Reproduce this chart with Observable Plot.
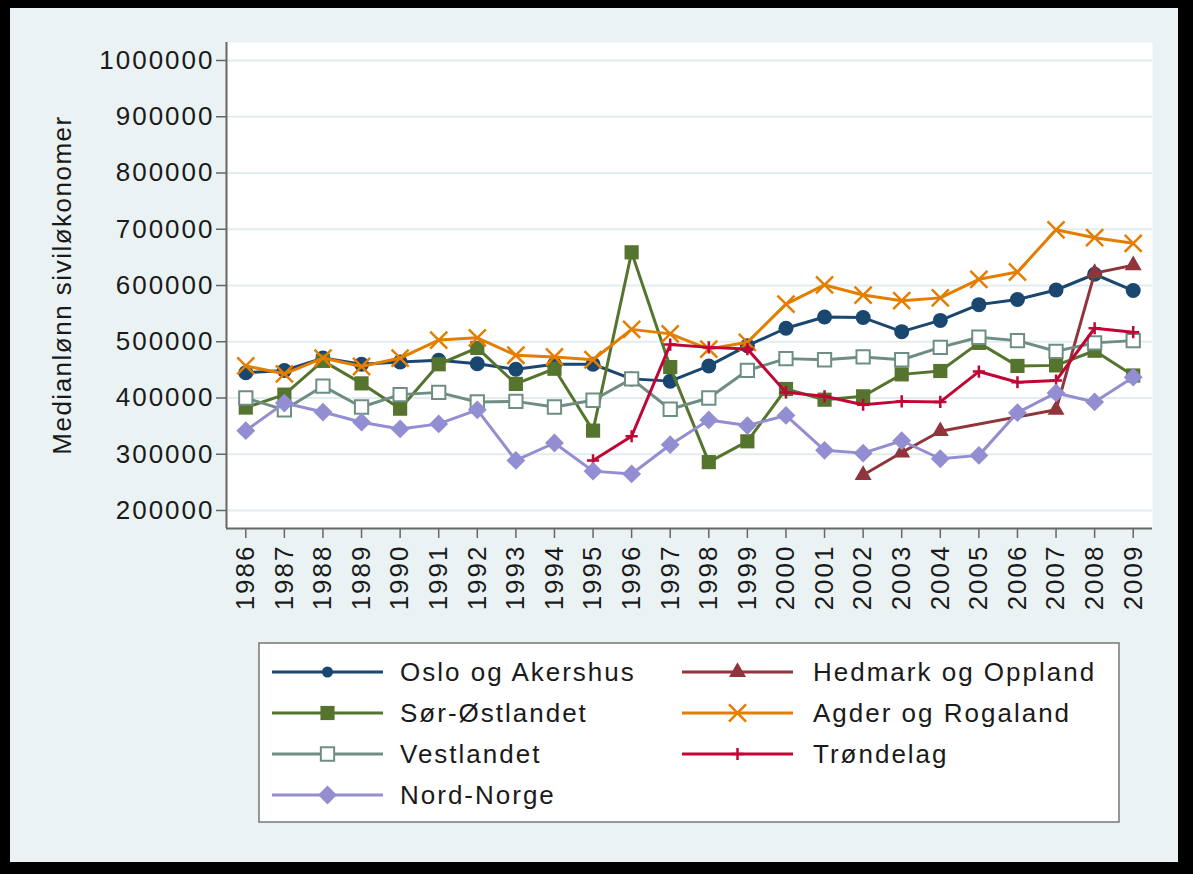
<!DOCTYPE html>
<html><head><meta charset="utf-8">
<script src="https://cdn.jsdelivr.net/npm/d3@7"></script>
<script src="https://cdn.jsdelivr.net/npm/@observablehq/plot@0.6"></script>
<style>
html,body{margin:0;padding:0;background:#000;width:1193px;height:874px;overflow:hidden;}
#frame{position:absolute;left:10px;top:8px;width:1168px;height:854px;background:#EAF2F3;}
</style></head><body><div id="frame"></div>
<script>
// ---- data ----
const years = [1986,1987,1988,1989,1990,1991,1992,1993,1994,1995,1996,1997,1998,1999,2000,2001,2002,2003,2004,2005,2006,2007,2008,2009];
const yTicks = [200000,300000,400000,500000,600000,700000,800000,900000,1000000];
const names = ["Oslo og Akershus","Hedmark og Oppland","Sør-Østlandet","Agder og Rogaland","Vestlandet","Trøndelag","Nord-Norge"];
const oslo    = [445000,449000,471000,460000,464000,467000,461000,451000,460000,460000,434000,430000,457000,493000,524000,544000,543000,518000,538000,566000,575000,592000,620000,591000];
const hedmark = [null,null,null,null,null,null,null,null,null,null,null,null,null,null,null,null,263000,303000,341000,null,null,379000,622000,636000];
const sorost  = [383000,406000,466000,426000,381000,460000,489000,425000,452000,342000,659000,455000,286000,323000,416000,397000,403000,442000,448000,498000,457000,458000,484000,440000];
const agder   = [457000,443000,471000,456000,471000,503000,507000,476000,473000,468000,522000,514000,487000,499000,567000,601000,583000,573000,578000,611000,624000,699000,685000,675000];
const vest    = [400000,379000,421000,384000,406000,410000,393000,394000,384000,396000,434000,380000,400000,449000,470000,468000,473000,468000,490000,508000,502000,483000,498000,502000];
const trond   = [null,null,null,null,null,null,null,null,null,289000,332000,495000,490000,487000,410000,403000,388000,394000,393000,447000,428000,431000,524000,517000];
const nord    = [342000,391000,375000,357000,345000,354000,379000,289000,320000,270000,265000,317000,361000,351000,369000,307000,302000,324000,292000,298000,374000,409000,393000,437000];
const seriesValues = [oslo, hedmark, sorost, agder, vest, trond, nord];

// ---- styles ----
const styles = [
  {color:"#1a476f", symbol:d3.symbolCircle,   r:7.5, rl:5.5, filled:true},
  {color:"#90353b", symbol:d3.symbolTriangle, r:6.3, rl:6.3, filled:true},
  {color:"#55752f", symbol:d3.symbolSquare,   r:8,   rl:8,   filled:true},
  {color:"#e37e00", symbol:d3.symbolTimes,    r:7.8, rl:7.8, filled:false},
  {color:"#6e8e84", symbol:d3.symbolSquare,   r:7.5, rl:7.5, hollow:true},
  {color:"#c10534", symbol:d3.symbolPlus,     r:4,   rl:4,   filled:false},
  {color:"#938dd2", symbol:d3.symbolDiamond2, r:8.5, rl:8.5, filled:true}
];

const seriesMarks = [];
names.forEach((name, k) => {
  const s = styles[k];
  const rows = [];
  seriesValues[k].forEach((v, i) => { if (v != null) rows.push({year: years[i], value: v}); });
  seriesMarks.push(Plot.line(rows, {x:"year", y:"value", stroke:s.color, strokeWidth:3}));
  if (s.hollow) {
    seriesMarks.push(Plot.dot(rows, {x:"year", y:"value", symbol:s.symbol, r:s.r, fill:"white", stroke:s.color, strokeWidth:2}));
  } else if (s.filled) {
    seriesMarks.push(Plot.dot(rows, {x:"year", y:"value", symbol:s.symbol, r:s.r, fill:s.color, stroke:"none"}));
  } else {
    seriesMarks.push(Plot.dot(rows, {x:"year", y:"value", symbol:s.symbol, r:s.r, fill:"none", stroke:s.color, strokeWidth:2.5}));
  }
});

const FONT = "'Liberation Sans', Arial, Helvetica, sans-serif";
const chart = Plot.plot({
  width: 1168, height: 854,
  marginLeft: 216, marginRight: 26, marginTop: 34, marginBottom: 334,
  x: {domain: [1985.5, 2009.5]},
  y: {domain: [168000, 1032000]},
  style: {fontFamily: FONT, fontSize: "26px", background: "#EAF2F3", color: "#1a1a1a"},
  marks: [
    Plot.frame({fill: "white", stroke: null}),
    Plot.gridY(yTicks, {stroke: "#E3ECEE", strokeOpacity: 1, strokeWidth: 2}),
    Plot.axisY(yTicks, {tickSize: 10, tickPadding: 2, tickFormat: d => String(d), fontSize: 26, label: null, stroke: "#666", strokeWidth: 1.5, fill: "#1a1a1a"}),
    Plot.axisX(years, {tickSize: 10, tickPadding: 6, tickRotate: -90, tickFormat: d => String(d), fontSize: 26, label: null, stroke: "#666", strokeWidth: 1.5, fill: "#1a1a1a"}),
    Plot.ruleX([1985.5], {stroke: "#666", strokeWidth: 2}),
    Plot.ruleY([168000], {stroke: "#666", strokeWidth: 2}),
    ...seriesMarks
  ]
});

const svg = d3.select(chart);
svg.style("background", "#EAF2F3").style("letter-spacing", "2px").style("max-width", "none");

// y-axis title
svg.append("text")
  .attr("transform", "translate(52,277) rotate(-90)")
  .attr("text-anchor", "middle").attr("dy", "0.35em")
  .attr("font-size", 26).attr("fill", "#1a1a1a")
  .style("letter-spacing", "1.5px")
  .text("Medianlønn siviløkonomer");

// legend
const lg = svg.append("g");
lg.append("rect").attr("x", 249).attr("y", 635).attr("width", 860).attr("height", 179)
  .attr("fill", "white").attr("stroke", "#777").attr("stroke-width", 1.5);
names.forEach((name, i) => {
  const s = styles[i];
  const col = i % 2, row = Math.floor(i / 2);
  const y = 664 + row * 41;
  const x0 = col ? 672 : 262;
  lg.append("line").attr("x1", x0).attr("x2", x0 + 111).attr("y1", y).attr("y2", y)
    .attr("stroke", s.color).attr("stroke-width", 3);
  const p = lg.append("path").attr("d", d3.symbol(s.symbol, s.rl * s.rl * Math.PI)())
    .attr("transform", `translate(${x0 + 55.5},${y})`);
  if (s.hollow) p.attr("fill", "white").attr("stroke", s.color).attr("stroke-width", 2);
  else if (s.filled) p.attr("fill", s.color);
  else p.attr("fill", "none").attr("stroke", s.color).attr("stroke-width", 2.5);
  lg.append("text").attr("x", col ? 803 : 390).attr("y", y).attr("dy", "0.35em")
    .attr("text-anchor", "start")
    .attr("font-size", 26).attr("fill", "#1a1a1a").text(name);
});

document.getElementById("frame").appendChild(chart);
</script>
</body></html>
